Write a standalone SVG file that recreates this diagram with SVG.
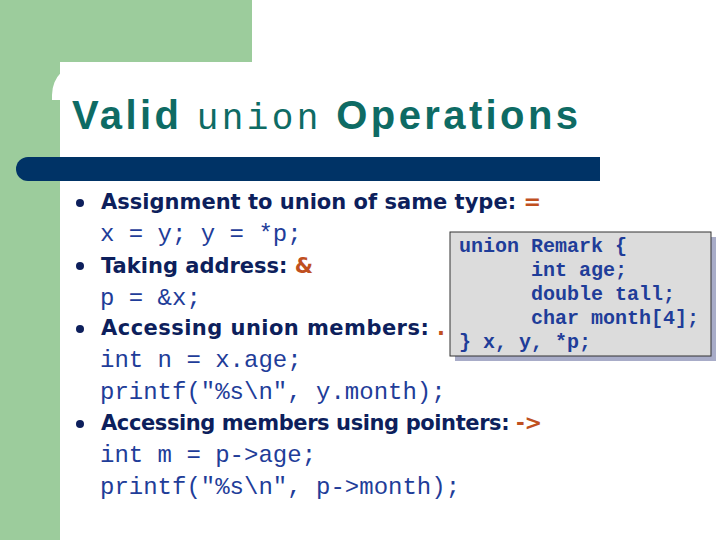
<svg xmlns="http://www.w3.org/2000/svg" width="720" height="540" viewBox="0 0 720 540">
<style>
.b{font-family:"DejaVu Sans","Noto Sans",sans-serif;font-weight:bold;font-size:21px;fill:#0d1f5c}
.c{font-family:"Liberation Mono","Courier New",monospace;font-size:24px;fill:#1f3d99}
.r{fill:#c0501f}
.k{font-family:"Liberation Mono","Courier New",monospace;font-size:20px;font-weight:bold;fill:#1f3d99}
</style>
<rect width="720" height="540" fill="#ffffff"/>
<rect x="0" y="0" width="252" height="62" fill="#9ccc9c"/>
<rect x="0" y="0" width="60" height="540" fill="#9ccc9c"/>
<path d="M60 540 V100 H52 V95 A33 33 0 0 1 85 62 H720 V540 Z" fill="#ffffff"/>
<g id="title">
<text x="72" y="129" font-family="Liberation Sans,Arial,sans-serif" font-weight="bold" font-size="40" fill="#0e6b64" textLength="506">Valid <tspan font-family="Liberation Mono,monospace" font-weight="normal" font-size="36">union</tspan>  Operations</text>
</g>
<path d="M28 157 H600 V181 H28 A12 12 0 0 1 28 157 Z" fill="#003366"/>
<g id="bullets" fill="#0d1f5c">
<circle cx="80" cy="203" r="4"/><circle cx="80" cy="266" r="4"/><circle cx="80" cy="329" r="4"/><circle cx="80" cy="424" r="4"/>
</g>
<g id="body">
<text class="b" x="101" y="209" textLength="440">Assignment to union of same type:   <tspan class="r">=</tspan></text>
<text class="c" x="100" y="241">x = y; y = *p;</text>
<text class="b" x="101" y="273">Taking address: <tspan class="r">&amp;</tspan></text>
<text class="c" x="100" y="305">p = &amp;x;</text>
<text class="b" x="101" y="335" textLength="344">Accessing union members: <tspan class="r">.</tspan></text>
<text class="c" x="100" y="367">int n = x.age;</text>
<text class="c" x="100" y="399">printf("%s\n", y.month);</text>
<text class="b" x="101" y="430" textLength="441">Accessing members using pointers: <tspan class="r">-&gt;</tspan></text>
<text class="c" x="100" y="462">int m = p-&gt;age;</text>
<text class="c" x="100" y="494">printf("%s\n", p-&gt;month);</text>
</g>
<g id="codebox">
<rect x="455" y="237" width="261" height="124" fill="#a8acc8"/>
<rect x="450" y="232" width="261" height="124" fill="#dcdcdc" stroke="#333333" stroke-width="1"/>
<text class="k" x="459" y="252">union Remark {</text>
<text class="k" x="531" y="276">int age;</text>
<text class="k" x="531" y="300">double tall;</text>
<text class="k" x="531" y="324">char month[4];</text>
<text class="k" x="459" y="348">} x, y, *p;</text>
</g>
</svg>
